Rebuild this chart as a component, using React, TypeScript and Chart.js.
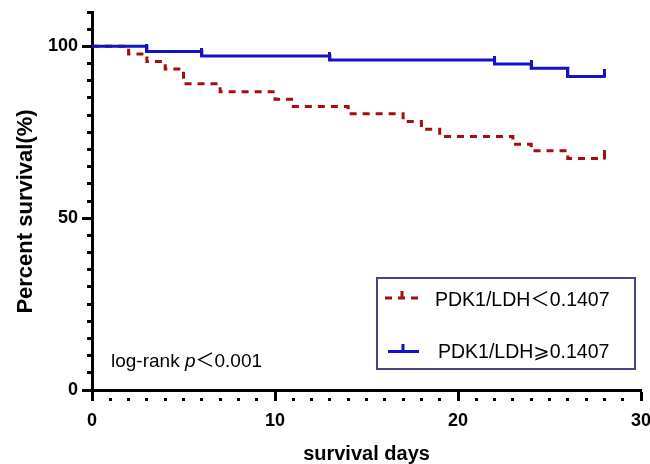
import React, { useEffect, useRef } from 'react';
import { Chart, registerables } from 'chart.js';

Chart.register(...registerables);

// ---- data ----
const highDays = [0, 3, 6, 13, 22, 24, 26, 28];
const highSurv = [100, 98.5, 97.2, 96.0, 94.9, 93.6, 91.2, 91.2];
const lowDays = [0, 2, 3, 4, 5, 7, 10, 11, 14, 17, 18, 19, 23, 24, 26, 28];
const lowSurv = [100, 97.8, 95.6, 93.4, 89.1, 86.8, 84.6, 82.5, 80.4, 78.1, 75.9, 73.8, 71.5, 69.6, 67.4, 67.4];
const highCensorDays = [3, 6, 13, 22, 24, 26, 28];
const lowCensorDays = [28];
const xMin = 0;
const xMax = 30;
const xStep = 1;
const xLabelEvery = 10;
const yMin = 0;
const yMax = 110;
const yStep = 5;
const yLabelEvery = 50;
const seriesLabels = ['PDK1/LDH＜0.1407', 'PDK1/LDH⩾0.1407'];
const xTitle = 'survival days';
const yTitle = 'Percent survival(%)';
const noteParts = ['log-rank ', 'p', '＜0.001'];

const FONT = "'Liberation Sans', Arial, 'DejaVu Sans', 'Noto Sans CJK SC', sans-serif";
const BLUE = '#1212c6';
const RED = '#a60d0d';
const FRAME = '#46467f';

function survAt(days: number[], surv: number[], d: number) {
  let v = surv[0];
  for (let i = 0; i < days.length; i++) if (days[i] <= d) v = surv[i];
  return v;
}

function tickImage(color: string) {
  const c = document.createElement('canvas');
  c.width = 3;
  c.height = 16;
  const g = c.getContext('2d')!;
  g.fillStyle = color;
  g.fillRect(0, 0, 3, 9);
  return c;
}

export default function App() {
  const ref = useRef<HTMLCanvasElement>(null);

  useEffect(() => {
    document.body.style.margin = '0';
    const canvas = ref.current!;

    const overlay = {
      id: 'overlay',
      afterDraw(chart: any) {
        const ctx = chart.ctx as CanvasRenderingContext2D;
        ctx.save();
        ctx.fillStyle = '#000';
        // y title
        ctx.save();
        ctx.font = `bold 22px ${FONT}`;
        ctx.translate(31.5, 211.5);
        ctx.rotate(-Math.PI / 2);
        ctx.textAlign = 'center';
        ctx.textBaseline = 'alphabetic';
        ctx.fillText(yTitle, 0, 0);
        ctx.restore();

        // legend frame
        ctx.strokeStyle = FRAME;
        ctx.lineWidth = 2;
        ctx.strokeRect(377, 278, 258, 91);

        // red symbol
        ctx.strokeStyle = RED;
        ctx.lineWidth = 3;
        ctx.setLineDash([7, 6]);
        ctx.beginPath();
        ctx.moveTo(385, 298);
        ctx.lineTo(419, 298);
        ctx.stroke();
        ctx.setLineDash([]);
        ctx.beginPath();
        ctx.moveTo(402, 291);
        ctx.lineTo(402, 298);
        ctx.stroke();

        // blue symbol
        ctx.strokeStyle = BLUE;
        ctx.beginPath();
        ctx.moveTo(388, 351.5);
        ctx.lineTo(419, 351.5);
        ctx.stroke();
        ctx.beginPath();
        ctx.moveTo(403, 344);
        ctx.lineTo(403, 351.5);
        ctx.stroke();

        // legend texts
        ctx.fillStyle = '#000';
        ctx.font = `19.5px ${FONT}`;
        ctx.textAlign = 'left';
        ctx.textBaseline = 'alphabetic';
        ctx.fillText(chart.data.datasets[1].label, 435, 305.5);
        ctx.fillText(chart.data.datasets[0].label, 438, 358);

        // note
        let x = 111;
        const y = 366.5;
        ctx.font = `19px ${FONT}`;
        ctx.fillText(noteParts[0], x, y);
        x += ctx.measureText(noteParts[0]).width;
        ctx.font = `italic 19px ${FONT}`;
        ctx.fillText(noteParts[1], x, y);
        x += ctx.measureText(noteParts[1]).width;
        ctx.font = `19px ${FONT}`;
        ctx.fillText(noteParts[2], x, y);
        ctx.restore();
      },
    };

    const chart = new Chart(canvas, {
      type: 'line',
      data: {
        datasets: [
          {
            label: seriesLabels[1],
            data: highDays.map((d, i) => ({ x: d, y: highSurv[i] })),
            borderColor: BLUE,
            borderWidth: 3,
            stepped: 'before',
            pointRadius: 0,
            fill: false,
          },
          {
            label: seriesLabels[0],
            data: lowDays.map((d, i) => ({ x: d, y: lowSurv[i] })),
            borderColor: RED,
            borderWidth: 3,
            borderDash: [7, 6],
            stepped: 'before',
            pointRadius: 0,
            fill: false,
          },
          {
            type: 'scatter',
            label: 'censor-high',
            data: highCensorDays.map((d) => ({ x: d, y: survAt(highDays, highSurv, d) })),
            pointStyle: tickImage(BLUE) as any,
            pointRadius: 6,
            showLine: false,
          } as any,
          {
            type: 'scatter',
            label: 'censor-low',
            data: lowCensorDays.map((d) => ({ x: d, y: survAt(lowDays, lowSurv, d) })),
            pointStyle: tickImage(RED) as any,
            pointRadius: 6,
            showLine: false,
          } as any,
        ],
      },
      options: {
        responsive: false,
        animation: false,
        layout: { padding: { top: 12, right: 9, left: 0, bottom: 0 } },
        plugins: { legend: { display: false }, tooltip: { enabled: false } },
        scales: {
          x: {
            type: 'linear',
            min: xMin,
            max: xMax,
            ticks: {
              stepSize: xStep,
              autoSkip: false,
              maxRotation: 0,
              color: '#000',
              padding: 9,
              font: { family: FONT, size: 18, weight: 'bold' },
              callback: (v: any) => (Number(v) % xLabelEvery === 0 ? String(v) : ''),
            },
            grid: {
              drawOnChartArea: false,
              drawTicks: true,
              tickLength: 11,
              tickWidth: 3,
              tickColor: '#000',
              tickBorderDash: (c: any) =>
                c.tick && c.tick.value % xLabelEvery === 0 ? [] : [0, 6, 5, 50],
            } as any,
            border: { display: true, color: '#000', width: 3 },
            title: {
              display: true,
              text: xTitle,
              color: '#000',
              font: { family: FONT, size: 20, weight: 'bold', lineHeight: 1 },
              padding: { top: 0, bottom: 0 },
            },
            afterFit: (s: any) => {
              s.height = 74;
              s.paddingLeft = 0;
              s.paddingRight = 0;
            },
          },
          y: {
            type: 'linear',
            min: yMin,
            max: yMax,
            ticks: {
              stepSize: yStep,
              autoSkip: false,
              color: '#000',
              padding: 4,
              font: { family: FONT, size: 18, weight: 'bold' },
              callback: (v: any) => (Number(v) % yLabelEvery === 0 ? String(v) : ''),
            },
            grid: {
              drawOnChartArea: false,
              drawTicks: true,
              tickLength: 10,
              tickWidth: 3,
              tickColor: '#000',
              tickBorderDash: (c: any) =>
                c.tick && c.tick.value % yLabelEvery === 0 ? [] : [0, 5, 5, 50],
            } as any,
            border: { display: true, color: '#000', width: 3 },
            title: { display: false },
            afterFit: (s: any) => {
              s.width = 92;
              s.paddingTop = 0;
              s.paddingBottom = 0;
            },
          },
        },
      } as any,
      plugins: [overlay],
    });

    return () => chart.destroy();
  }, []);

  return (
    <div style={{ width: 650, height: 464 }}>
      <canvas ref={ref} width={650} height={464} />
    </div>
  );
}
